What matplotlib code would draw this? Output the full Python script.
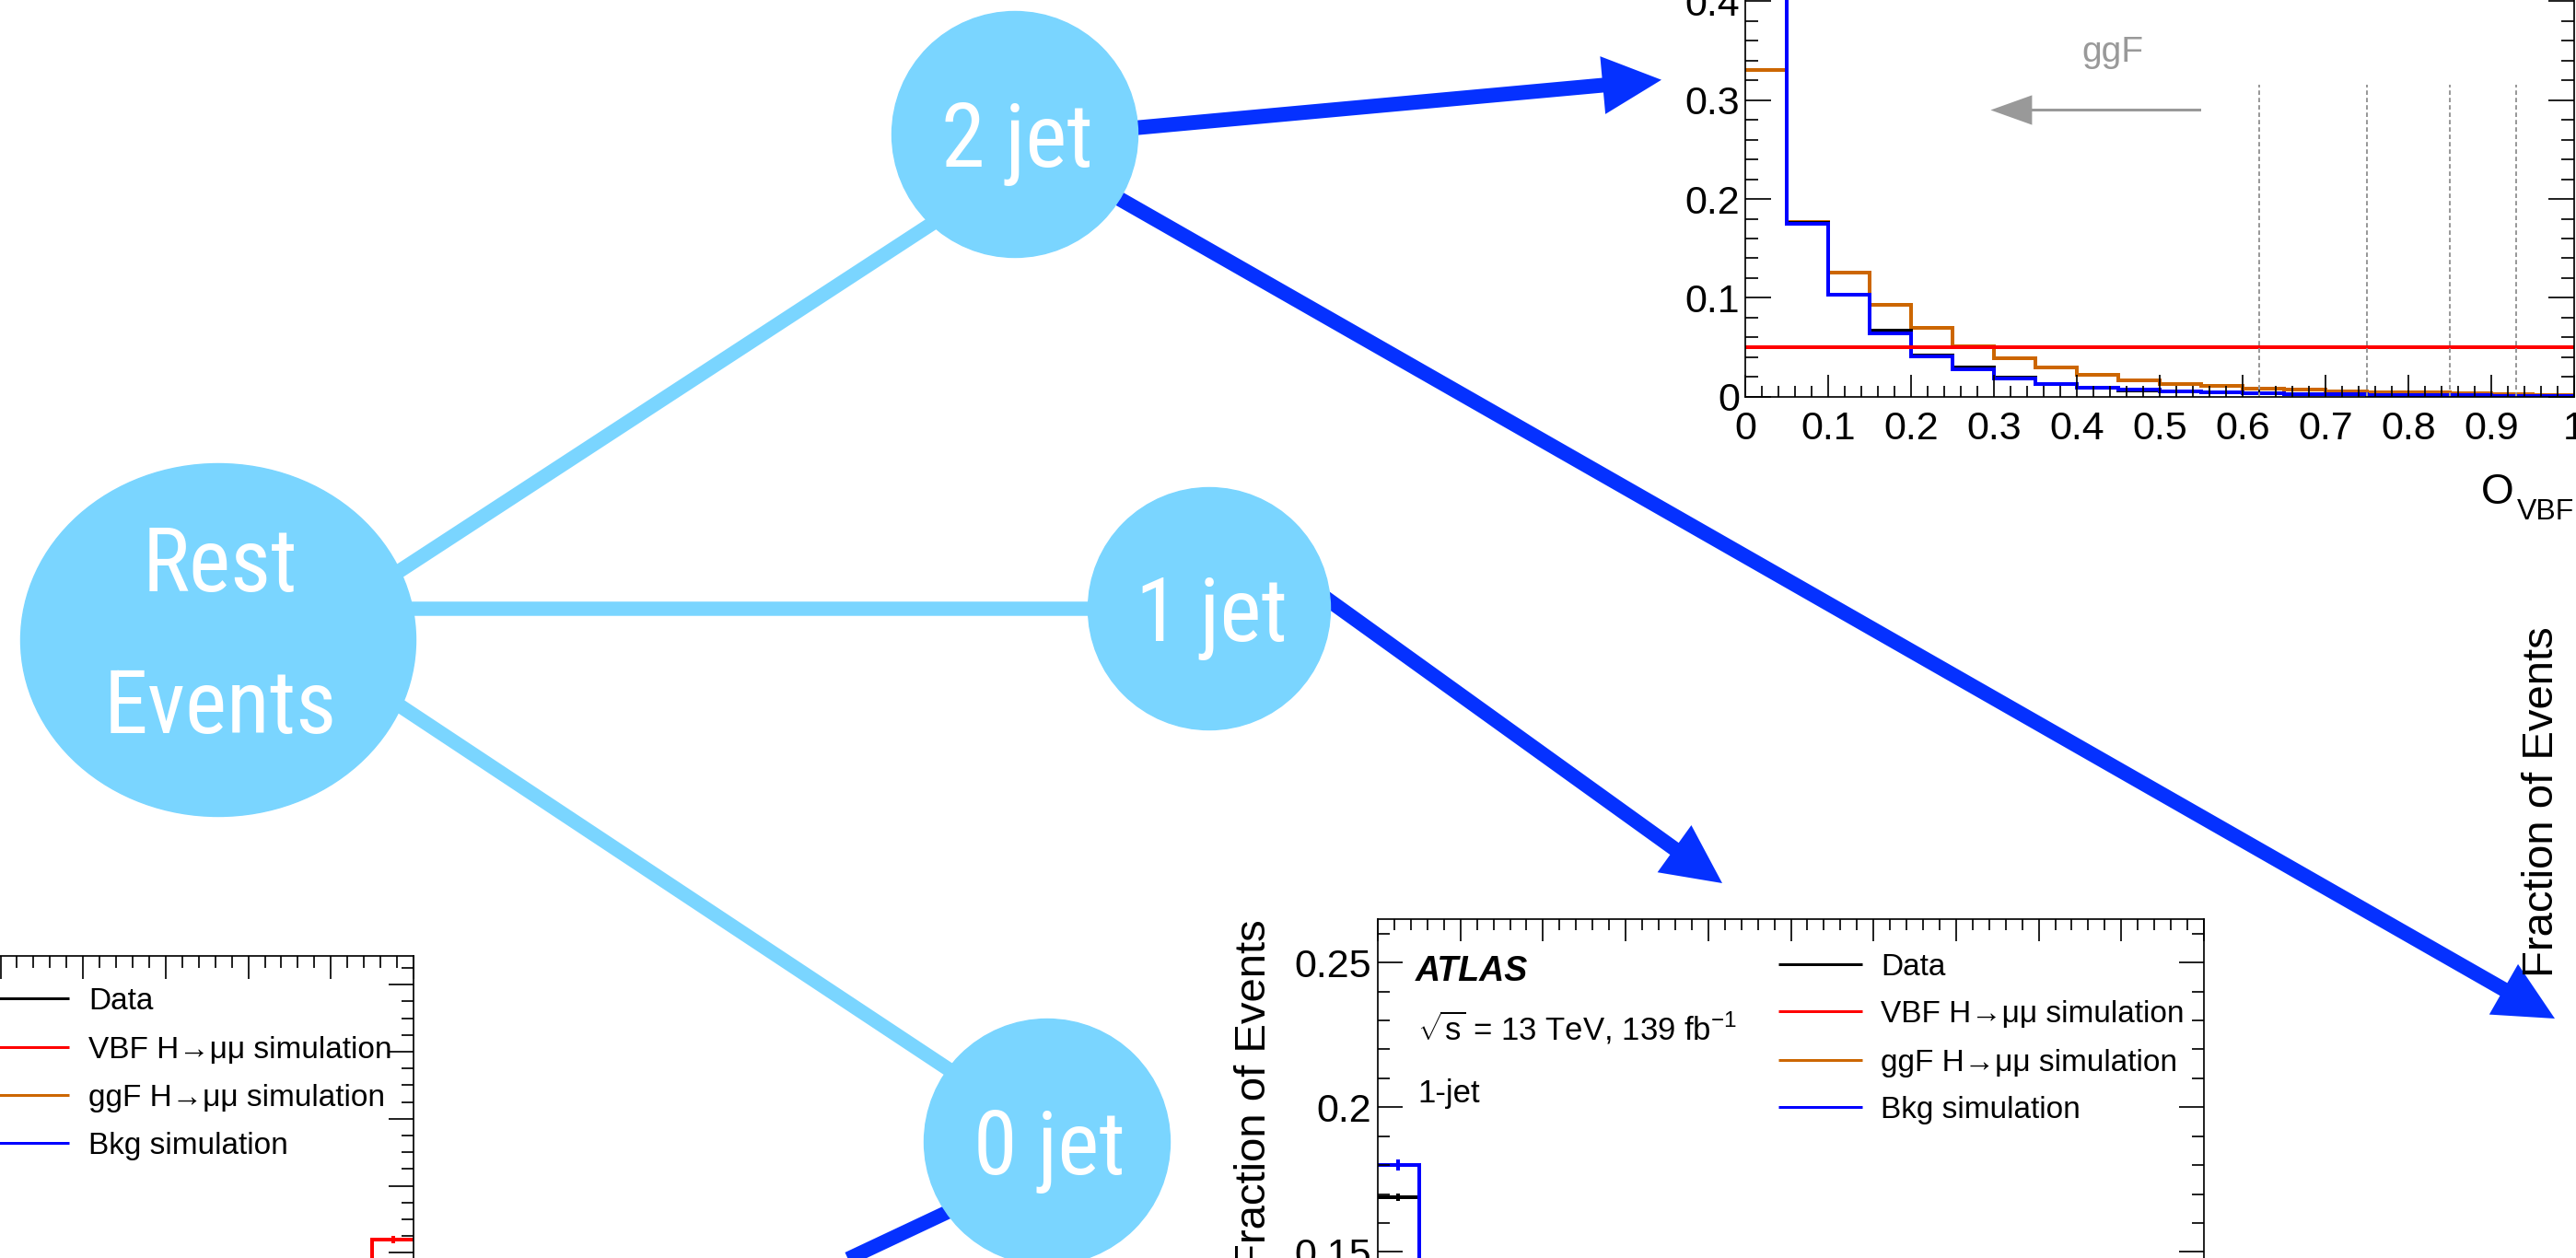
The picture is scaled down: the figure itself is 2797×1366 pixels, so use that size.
import numpy as np
import matplotlib
matplotlib.use("Agg")
import matplotlib.pyplot as plt
import matplotlib.font_manager as fm
from matplotlib.font_manager import FontProperties
from matplotlib.patches import Ellipse, FancyArrow
from matplotlib.ticker import MultipleLocator, FuncFormatter

plt.rcParams['font.family'] = ['Liberation Sans', 'DejaVu Sans']
plt.rcParams['mathtext.fontset'] = 'custom'
plt.rcParams['mathtext.rm'] = 'Liberation Sans'
plt.rcParams['mathtext.it'] = 'Liberation Sans:italic'

# ---- data ----
edges_2j = np.round(np.arange(0, 1.0001, 0.05), 2)
data_2j = [0.51, 0.1755, 0.1035, 0.0665, 0.0418, 0.0300, 0.0190, 0.0128, 0.0088, 0.0066,
           0.0049, 0.0041, 0.0035, 0.0027, 0.0021, 0.0017, 0.0014, 0.0011, 0.0009, 0.0006]
vbf_2j = [0.0496, 0.0497, 0.0497, 0.0498, 0.0498, 0.0499, 0.0499, 0.0500, 0.0500, 0.0500,
          0.0501, 0.0501, 0.0501, 0.0502, 0.0502, 0.0502, 0.0503, 0.0503, 0.0503, 0.0504]
ggf_2j = [0.331, 0.177, 0.1255, 0.0932, 0.0696, 0.0513, 0.0391, 0.0292, 0.0217, 0.0168,
          0.0124, 0.0106, 0.0084, 0.0068, 0.0053, 0.0043, 0.0040, 0.0034, 0.0028, 0.0020]
bkg_2j = [0.52, 0.1746, 0.1031, 0.0637, 0.0410, 0.0276, 0.0186, 0.0130, 0.0087, 0.0068,
          0.0050, 0.0043, 0.0037, 0.0028, 0.0022, 0.0018, 0.0015, 0.0012, 0.0010, 0.0007]
cut_edges = [0.62, 0.75, 0.85, 0.93]

edges_1j = [0.0, 0.05, 0.10]
data_1j = [0.169, 0.122]
data_1j_err = [0.0013, 0.0012]
bkg_1j = [0.180, 0.128]
bkg_1j_err = [0.002, 0.0018]

edges_0j = [0.90, 0.95, 1.00]
vbf_0j = [0.016, 0.024]
vbf_0j_err = [0.0010, 0.0011]

legend_labels = ['Data', 'VBF H\u2192\u03bc\u03bc simulation', 'ggF H\u2192\u03bc\u03bc simulation', 'Bkg simulation']
legend_colors = ['black', '#ff0000', '#cc6600', '#0000ff']

# diagram nodes: name -> (cx, cy, width, height), in pixels
nodes = {
    'rest': (237, 695, 429, 383),
    '2jet': (1102, 146, 267, 267),
    '1jet': (1313, 661, 263, 263),
    '0jet': (1137, 1240, 267, 267),
}
node_labels = {'rest': ['Rest', 'Events'], '2jet': ['2 jet'], '1jet': ['1 jet'], '0jet': ['0 jet']}

W, H = 2797, 1366
PT = 0.72  # points per pixel at dpi 100
LIGHT = '#7ad5ff'
DARK = '#0531ff'


def pick_node_font():
    # the node labels use a condensed face; take one if the system has it
    entries = fm.fontManager.ttflist
    names = {f.name for f in entries}
    for n in ['Roboto Condensed', 'Liberation Sans Narrow', 'DejaVu Sans Condensed',
              'Noto Sans Condensed', 'Open Sans Condensed']:
        if n in names:
            return FontProperties(family=n, weight='normal')
    for f in entries:
        if (f.name in ('Noto Sans', 'Open Sans', 'Roboto', 'DejaVu Sans')
                and 'condensed' in str(f.stretch) and f.weight in (400, 'normal', 'regular')
                and f.style == 'normal'):
            return FontProperties(fname=f.fname)
    for n in ['Lato', 'Roboto']:
        if n in names:
            return FontProperties(family=n)
    return FontProperties(family='Liberation Sans')


fig = plt.figure(figsize=(W / 100, H / 100), dpi=100)


def add_px_axes(x0, y_top, x1, y_bot):
    return fig.add_axes([x0 / W, 1 - y_bot / H, (x1 - x0) / W, (y_bot - y_top) / H])


def root_style(ax, ymaj, ymin, xlen=24, ylen=28, ypad=6):
    ax.xaxis.set_major_locator(MultipleLocator(0.1))
    ax.xaxis.set_minor_locator(MultipleLocator(0.02))
    ax.yaxis.set_major_locator(MultipleLocator(ymaj))
    ax.yaxis.set_minor_locator(MultipleLocator(ymin))
    fmt = FuncFormatter(lambda v, p: '0' if abs(v) < 1e-9 else f'{v:g}')
    ax.xaxis.set_major_formatter(fmt)
    ax.yaxis.set_major_formatter(fmt)
    ax.tick_params(which='both', direction='in', top=True, right=True,
                   width=1.7 * PT, labelsize=31)
    ax.tick_params(axis='x', which='major', length=xlen * PT, pad=15 * PT)
    ax.tick_params(axis='x', which='minor', length=xlen / 2 * PT)
    ax.tick_params(axis='y', which='major', length=ylen * PT, pad=ypad * PT)
    ax.tick_params(axis='y', which='minor', length=ylen / 2 * PT)
    for s in ax.spines.values():
        s.set_linewidth(1.7 * PT)


lw = 4.0 * PT

# ---- 2-jet plot (top right) ----
ax2 = add_px_axes(1895, -52.2, 2795, 430.7)
ax2.set_xlim(0, 1)
ax2.set_ylim(0, 0.45)
root_style(ax2, 0.1, 0.02)
ax2.stairs(ggf_2j, edges_2j, color='#cc6600', lw=lw, baseline=None)
ax2.stairs(data_2j, edges_2j, color='black', lw=lw, baseline=None)
ax2.stairs(bkg_2j, edges_2j, color='#0000ff', lw=lw, baseline=None)
ax2.stairs(vbf_2j, edges_2j, color='#ff0000', lw=lw, baseline=None)
ax2.vlines(cut_edges, 0, 0.316, colors='#999999', lw=2 * PT, linestyles=(0, (2.4, 1.6)))
ax2.add_patch(FancyArrow(0.55, 0.29, 0.296 - 0.55, 0, width=0.0028, head_width=0.030,
                         head_length=0.05, length_includes_head=True,
                         color='#999999', lw=0))
ax2.text(0.443, 0.339, 'ggF', color='#999999', fontsize=28, ha='center', va='baseline')

# ---- 1-jet plot (bottom middle) ----
ax1 = add_px_axes(1496, 998, 2393, 1831)
ax1.set_xlim(0, 1)
ax1.set_ylim(0, 0.265)
root_style(ax1, 0.05, 0.01, ylen=27, ypad=7)
ax1.stairs(data_1j, edges_1j, color='black', lw=lw, baseline=None)
ax1.errorbar([0.025, 0.075], data_1j, yerr=data_1j_err, fmt='none', ecolor='black', elinewidth=lw)
ax1.stairs(bkg_1j, edges_1j, color='#0000ff', lw=lw, baseline=None)
ax1.errorbar([0.025, 0.075], bkg_1j, yerr=bkg_1j_err, fmt='none', ecolor='#0000ff', elinewidth=lw)

# ---- 0-jet plot (bottom left, mostly off the picture) ----
ax0 = add_px_axes(-448, 1038.3, 449, 1433.3)
ax0.set_xlim(0, 1)
ax0.set_ylim(0, 0.1085)
root_style(ax0, 0.02, 0.005, xlen=25, ylen=27)
ax0.stairs(vbf_0j, edges_0j, color='#ff0000', lw=lw, baseline=None)
ax0.errorbar([0.925, 0.975], vbf_0j, yerr=vbf_0j_err, fmt='none', ecolor='#ff0000', elinewidth=lw)

# ---- overlay in pixel coordinates: diagram and free text ----
ov = fig.add_axes([0, 0, 1, 1])
ov.set_xlim(0, W)
ov.set_ylim(H, 0)
ov.axis('off')
ov.patch.set_visible(False)

light_w = 15.5 * PT
ov.plot([400, 1050], [642, 218], color=LIGHT, lw=light_w, zorder=1)
ov.plot([440, 1200], [661, 661], color=LIGHT, lw=light_w, zorder=1)
ov.plot([420, 1060], [757, 1181], color=LIGHT, lw=light_w, zorder=1)

arrows = [((1150, 146.4), (1804, 86.7)),
          ((1150, 178.5), (2774, 1106)),
          ((1400, 621), (1870, 959))]
for (xs, ys), (xe, ye) in arrows:
    ov.add_patch(FancyArrow(xs, ys, xe - xs, ye - ys, width=16, head_width=63,
                            head_length=64, length_includes_head=True,
                            color=DARK, lw=0, zorder=1))
ov.plot([1080, 700], [1292, 1471], color=DARK, lw=15.5 * PT, zorder=1, solid_capstyle='butt')

# node label size: fit the width of "0 jet" in the reference
node_fp = pick_node_font()
probe = ov.text(0, 0, '0 jet', fontproperties=node_fp, fontsize=68)
fig.canvas.draw()
wpx = probe.get_window_extent(fig.canvas.get_renderer()).width
probe.remove()
node_size = 68 * 165 / wpx
cap_half = 0.36 * node_size / PT

for key, (cx, cy, w, h) in nodes.items():
    ov.add_patch(Ellipse((cx, cy), w, h, color=LIGHT, zorder=2))
    lines = node_labels[key]
    if len(lines) == 1:
        centers = [cy]
    else:
        centers = [cy - 88, cy + 66]
    for txt, yc in zip(lines, centers):
        ov.text(cx + 2, yc + cap_half, txt, color='white', fontproperties=node_fp,
                fontsize=node_size, ha='center', va='baseline', zorder=3)

# legends


def draw_legend(xl0, xl1, xt, rows):
    for label, color, y in zip(legend_labels, legend_colors, rows):
        ov.plot([xl0, xl1], [y, y], color=color, lw=3 * PT, solid_capstyle='butt')
        ov.text(xt, y + 12, label, fontsize=24, ha='left', va='baseline')


draw_legend(1931, 2022, 2042, [1046.7, 1098.3, 1150.7, 1202.3])
draw_legend(-16, 75, 96, [1084.3, 1136.7, 1189, 1240.7])

# ATLAS label block of the 1-jet plot
ov.text(1537, 1065, 'ATLAS', fontsize=27, fontweight='bold', fontstyle='italic', va='baseline')
ov.text(1539, 1130, r'$\sqrt{\mathrm{s}}$ = 13 TeV, 139 fb$^{\mathrm{-1}}$', fontsize=25, va='baseline')
ov.text(1539, 1197, '1-jet', fontsize=25, va='baseline')

# axis titles
ov.text(2694, 547, 'O', fontsize=33, ha='left', va='baseline')
ov.text(2733, 564, 'VBF', fontsize=23, ha='left', va='baseline')
ov.text(1362, 998, 'Fraction of Events', fontsize=34, rotation=90, ha='center', va='top')
ov.text(2760, 680, 'Fraction of Events', fontsize=34, rotation=90, ha='center', va='top')

fig.savefig('out.png', dpi=100)
